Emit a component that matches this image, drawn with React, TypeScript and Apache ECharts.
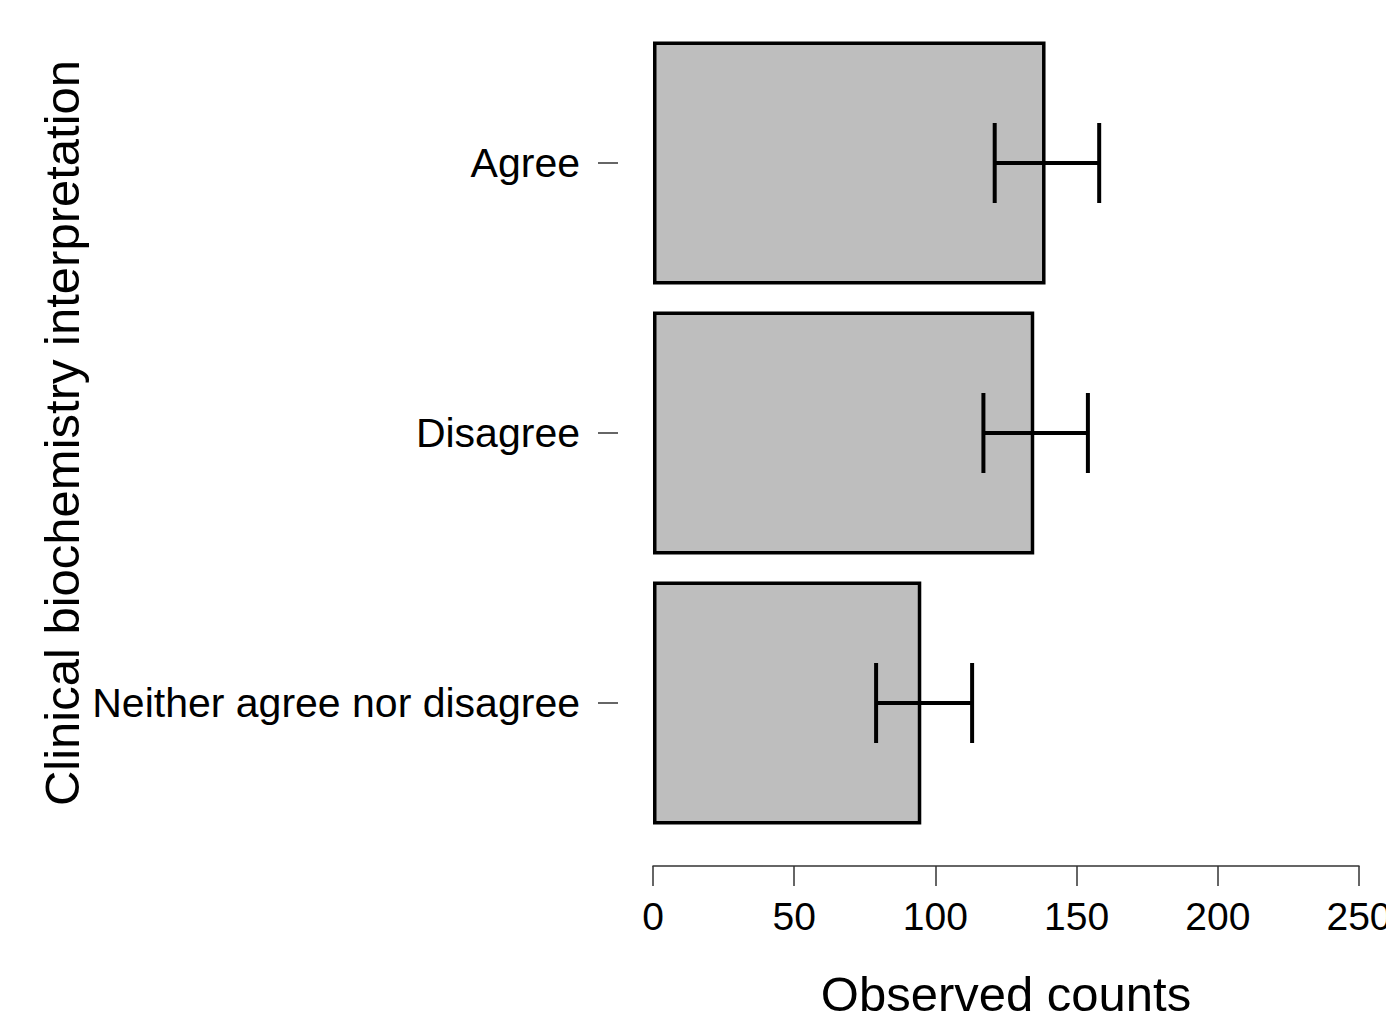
import React, { useEffect, useRef } from "react";
import * as echarts from "echarts";

const categories = ["Agree", "Disagree", "Neither agree nor disagree"];
const counts = [139, 135, 95];
const lower = [121, 117, 79];
const upper = [158, 154, 113];
const xTicks = { min: 0, max: 250, interval: 50 };
const xTitle = "Observed counts";
const yTitle = "Clinical biochemistry interpretation";

const FONT = "Liberation Sans, Arial, Helvetica, sans-serif";

export default function App() {
  const ref = useRef<HTMLDivElement>(null);
  useEffect(() => {
    document.body.style.margin = "0";
    document.body.style.overflow = "hidden";
    const chart = echarts.init(ref.current!, undefined, { renderer: "svg" });
    const errData = categories.map((_, i) => [i, lower[i], upper[i]]);
    chart.setOption({
      animation: false,
      backgroundColor: "#ffffff",
      grid: {
        left: 653,
        right: 27,
        top: 28,
        bottom: 177,
        containLabel: false,
        outerBoundsMode: "none",
      },
      xAxis: {
        type: "value",
        min: xTicks.min,
        max: xTicks.max,
        interval: xTicks.interval,
        offset: 28,
        splitLine: { show: false },
        axisLine: { show: true, onZero: false, lineStyle: { color: "#333", width: 1.5 } },
        axisTick: { show: true, length: 20, lineStyle: { color: "#333", width: 1.5 } },
        axisLabel: { color: "#000", fontSize: 39, fontFamily: FONT, margin: 31 },
      },
      yAxis: {
        type: "category",
        data: categories,
        inverse: true,
        offset: 35,
        axisLine: { show: false, onZero: false },
        axisTick: { show: true, alignWithLabel: true, length: 20, lineStyle: { color: "#333", width: 1.5 } },
        axisLabel: { color: "#000", fontSize: 41, fontFamily: FONT, margin: 38 },
      },
      graphic: [
        {
          type: "text",
          x: 1006,
          y: 994,
          style: {
            text: xTitle,
            fontSize: 49,
            lineHeight: 36,
            fontFamily: FONT,
            fill: "#000",
            textAlign: "center",
            textVerticalAlign: "middle",
          },
        },
        {
          type: "text",
          x: 62,
          y: 433,
          rotation: Math.PI / 2,
          style: {
            text: yTitle,
            fontSize: 49,
            fontFamily: FONT,
            fill: "#000",
            textAlign: "center",
            textVerticalAlign: "middle",
          },
        },
      ],
      series: [
        {
          type: "bar",
          data: counts,
          barCategoryGap: "10%",
          itemStyle: { color: "#bebebe", borderColor: "#000", borderWidth: 3.5 },
        },
        {
          type: "custom",
          data: errData,
          encode: { x: [1, 2], y: 0 },
          z: 10,
          renderItem: (params: any, api: any) => {
            const idx = api.value(0);
            const lo = api.coord([api.value(1), idx]);
            const hi = api.coord([api.value(2), idx]);
            const h = 40;
            const style = { stroke: "#000", lineWidth: 4 };
            return {
              type: "group",
              children: [
                { type: "line", shape: { x1: lo[0], y1: lo[1], x2: hi[0], y2: hi[1] }, style },
                { type: "line", shape: { x1: lo[0], y1: lo[1] - h, x2: lo[0], y2: lo[1] + h }, style },
                { type: "line", shape: { x1: hi[0], y1: hi[1] - h, x2: hi[0], y2: hi[1] + h }, style },
              ],
            };
          },
        },
      ],
    });
    return () => chart.dispose();
  }, []);
  return <div ref={ref} style={{ width: 1386, height: 1015 }} />;
}
